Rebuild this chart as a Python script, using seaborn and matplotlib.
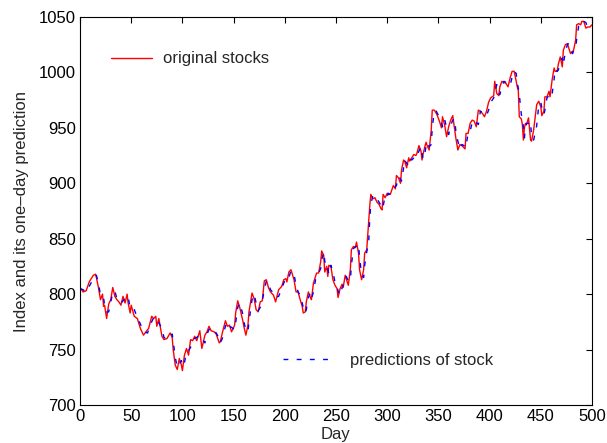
import matplotlib
matplotlib.use("Agg")
import pandas as pd
import seaborn as sns
import matplotlib.pyplot as plt
from matplotlib.lines import Line2D

# values
days = [0, 3, 6, 9, 13, 15, 16, 18, 20, 22, 23, 24, 26, 28, 30, 32, 34, 36, 38, 40,
        42, 44, 46, 47, 49, 50, 53, 56, 59, 62, 66, 67, 70, 72, 74, 75, 77, 80, 82, 85,
        88, 90, 91, 93, 95, 97, 99, 100, 102, 104, 106, 108, 110, 112, 114, 117, 119, 122, 124, 126,
        128, 131, 133, 136, 137, 139, 142, 144, 146, 148, 151, 152, 154, 156, 159, 160, 162, 164, 165, 168,
        170, 172, 174, 176, 178, 180, 182, 184, 186, 189, 191, 194, 197, 199, 201, 202, 204, 206, 209, 211,
        213, 215, 217, 218, 220, 221, 223, 225, 226, 228, 230, 231, 233, 235, 236, 238, 239, 241, 242, 243,
        245, 247, 249, 251, 252, 254, 256, 257, 259, 260, 262, 264, 265, 267, 269, 270, 272, 273, 275, 277,
        278, 280, 282, 283, 284, 286, 288, 290, 292, 294, 295, 296, 298, 300, 301, 303, 306, 308, 309, 311,
        313, 314, 316, 317, 319, 321, 322, 324, 326, 328, 329, 331, 333, 334, 335, 337, 338, 339, 341, 343,
        344, 346, 348, 349, 351, 353, 354, 356, 358, 360, 362, 364, 366, 367, 369, 371, 373, 375, 376, 377,
        379, 381, 383, 385, 387, 389, 391, 393, 395, 397, 399, 401, 404, 405, 407, 409, 410, 412, 414, 416,
        418, 420, 422, 424, 426, 427, 428, 429, 431, 432, 433, 434, 435, 436, 438, 440, 441, 443, 446, 448,
        450, 451, 453, 454, 456, 458, 459, 461, 463, 464, 466, 467, 469, 471, 472, 474, 476, 477, 479, 481,
        482, 484, 485, 487, 489, 490, 492, 494, 496, 498, 500]

original = [806, 802, 803, 811, 817, 818, 815, 806, 795, 800, 789, 790, 778, 791, 795, 806, 798, 795, 793, 790,
            798, 792, 800, 792, 783, 790, 780, 778, 769, 763, 768, 769, 780, 778, 780, 771, 778, 762, 759, 760,
            765, 761, 750, 736, 732, 742, 736, 731, 745, 751, 745, 759, 758, 762, 758, 767, 751, 763, 766, 771,
            767, 766, 764, 756, 757, 765, 776, 771, 772, 766, 772, 783, 794, 788, 776, 771, 763, 772, 784, 801,
            796, 786, 784, 793, 794, 812, 813, 806, 802, 799, 793, 804, 807, 813, 814, 811, 820, 822, 813, 802,
            802, 795, 789, 783, 784, 793, 802, 797, 795, 810, 816, 819, 819, 829, 839, 835, 820, 825, 816, 826,
            825, 813, 808, 805, 797, 805, 809, 806, 817, 814, 808, 822, 840, 843, 842, 847, 837, 822, 813, 822,
            837, 840, 867, 880, 890, 886, 887, 883, 881, 877, 876, 890, 887, 891, 890, 890, 898, 895, 907, 905,
            900, 912, 921, 920, 914, 923, 920, 923, 926, 925, 927, 934, 929, 921, 926, 934, 937, 934, 930, 948,
            966, 966, 963, 961, 956, 950, 960, 953, 942, 951, 957, 961, 948, 941, 930, 935, 934, 932, 931, 945,
            945, 954, 957, 956, 951, 966, 965, 963, 960, 965, 973, 977, 979, 992, 981, 979, 987, 992, 991, 990,
            987, 995, 1001, 1001, 992, 987, 984, 960, 958, 953, 939, 950, 954, 953, 959, 939, 938, 948, 971, 974,
            969, 961, 965, 978, 978, 983, 978, 993, 1004, 1001, 1001, 1007, 1014, 1005, 1020, 1025, 1026, 1023, 1017, 1019,
            1020, 1029, 1043, 1044, 1043, 1046, 1046, 1040, 1041, 1041, 1043]

predicted = [805, 804, 802, 807, 814, 817, 817, 810, 799, 797, 797, 790, 784, 784, 793, 801, 803, 796, 795, 792,
             794, 796, 796, 798, 787, 786, 786, 779, 773, 766, 765, 768, 775, 779, 779, 777, 774, 769, 761, 759,
             762, 764, 758, 743, 734, 737, 740, 735, 738, 748, 749, 752, 758, 760, 761, 763, 760, 756, 764, 768,
             770, 767, 765, 760, 756, 760, 771, 775, 771, 770, 768, 774, 788, 792, 782, 775, 768, 766, 775, 795,
             800, 792, 785, 788, 794, 804, 812, 811, 804, 801, 797, 798, 805, 810, 814, 813, 815, 821, 818, 808,
             802, 799, 792, 788, 783, 786, 797, 801, 796, 802, 813, 816, 819, 823, 831, 838, 830, 822, 823, 818,
             826, 820, 811, 807, 803, 799, 806, 808, 810, 816, 812, 812, 826, 841, 843, 843, 845, 833, 818, 815,
             826, 838, 848, 869, 881, 889, 886, 886, 883, 880, 877, 879, 889, 888, 891, 890, 893, 897, 898, 906,
             904, 902, 914, 921, 918, 916, 922, 921, 923, 926, 925, 929, 933, 927, 922, 928, 934, 937, 933, 935,
             950, 965, 965, 963, 960, 955, 951, 958, 950, 944, 952, 957, 958, 947, 938, 931, 935, 934, 932, 934,
             945, 947, 955, 957, 955, 953, 965, 964, 962, 961, 966, 973, 977, 981, 989, 981, 980, 987, 992, 991,
             989, 988, 996, 1001, 999, 991, 986, 980, 962, 958, 951, 941, 950, 954, 954, 956, 941, 939, 952, 970,
             973, 968, 962, 966, 977, 979, 982, 980, 994, 1003, 1001, 1002, 1008, 1013, 1007, 1019, 1025, 1026, 1022, 1017,
             1019, 1021, 1030, 1042, 1044, 1043, 1046, 1045, 1040, 1041, 1041]

df = pd.DataFrame({"Day": days, "original": original, "predicted": predicted})

sns.set_style("white")
plt.rcParams["font.family"] = ["Liberation Sans", "DejaVu Sans"]
plt.rcParams["font.size"] = 12

fig = plt.figure(figsize=(6.07, 4.43), dpi=100)
ax = fig.add_axes([80 / 607, 38 / 443, 512 / 607, 388 / 443])

sns.lineplot(data=df, x="Day", y="original", color="red", linewidth=1.0, ax=ax)
sns.lineplot(data=df, x="Day", y="predicted", color="blue", linewidth=1.0,
             dashes=False, ax=ax).lines[-1].set_dashes((3.5, 6))

ax.set_xlim(0, 500)
ax.set_ylim(700, 1050)
ax.set_xticks(range(0, 501, 50))
ax.set_yticks(range(700, 1051, 50))
ax.tick_params(direction="in", length=4, width=0.8, top=True, right=True,
               labelsize=12, colors="black", pad=3)
for s in ax.spines.values():
    s.set_color("black")
    s.set_linewidth(0.8)
    s.set_visible(True)

ax.set_xlabel("Day", fontsize=12, labelpad=2)
ax.set_ylabel("Index and its one\u2013day prediction", fontsize=12, labelpad=7)

h1 = Line2D([], [], color="red", linewidth=1.0)
h2 = Line2D([], [], color="blue", linewidth=1.0, dashes=(3.5, 6))
leg1 = ax.legend([h1], ["original stocks"], loc="center left", frameon=False,
                 bbox_to_anchor=(111 / 607, 1 - 59 / 443), bbox_transform=fig.transFigure,
                 borderpad=0, borderaxespad=0, handlelength=2.45, handletextpad=0.65, fontsize=12)
ax.add_artist(leg1)
ax.legend([h2], ["predictions of stock"], loc="center left", frameon=False,
          bbox_to_anchor=(283 / 607, 1 - 360 / 443), bbox_transform=fig.transFigure,
          borderpad=0, borderaxespad=0, handlelength=3.0, handletextpad=1.0, fontsize=12)

fig.savefig("out.png", dpi=100)
